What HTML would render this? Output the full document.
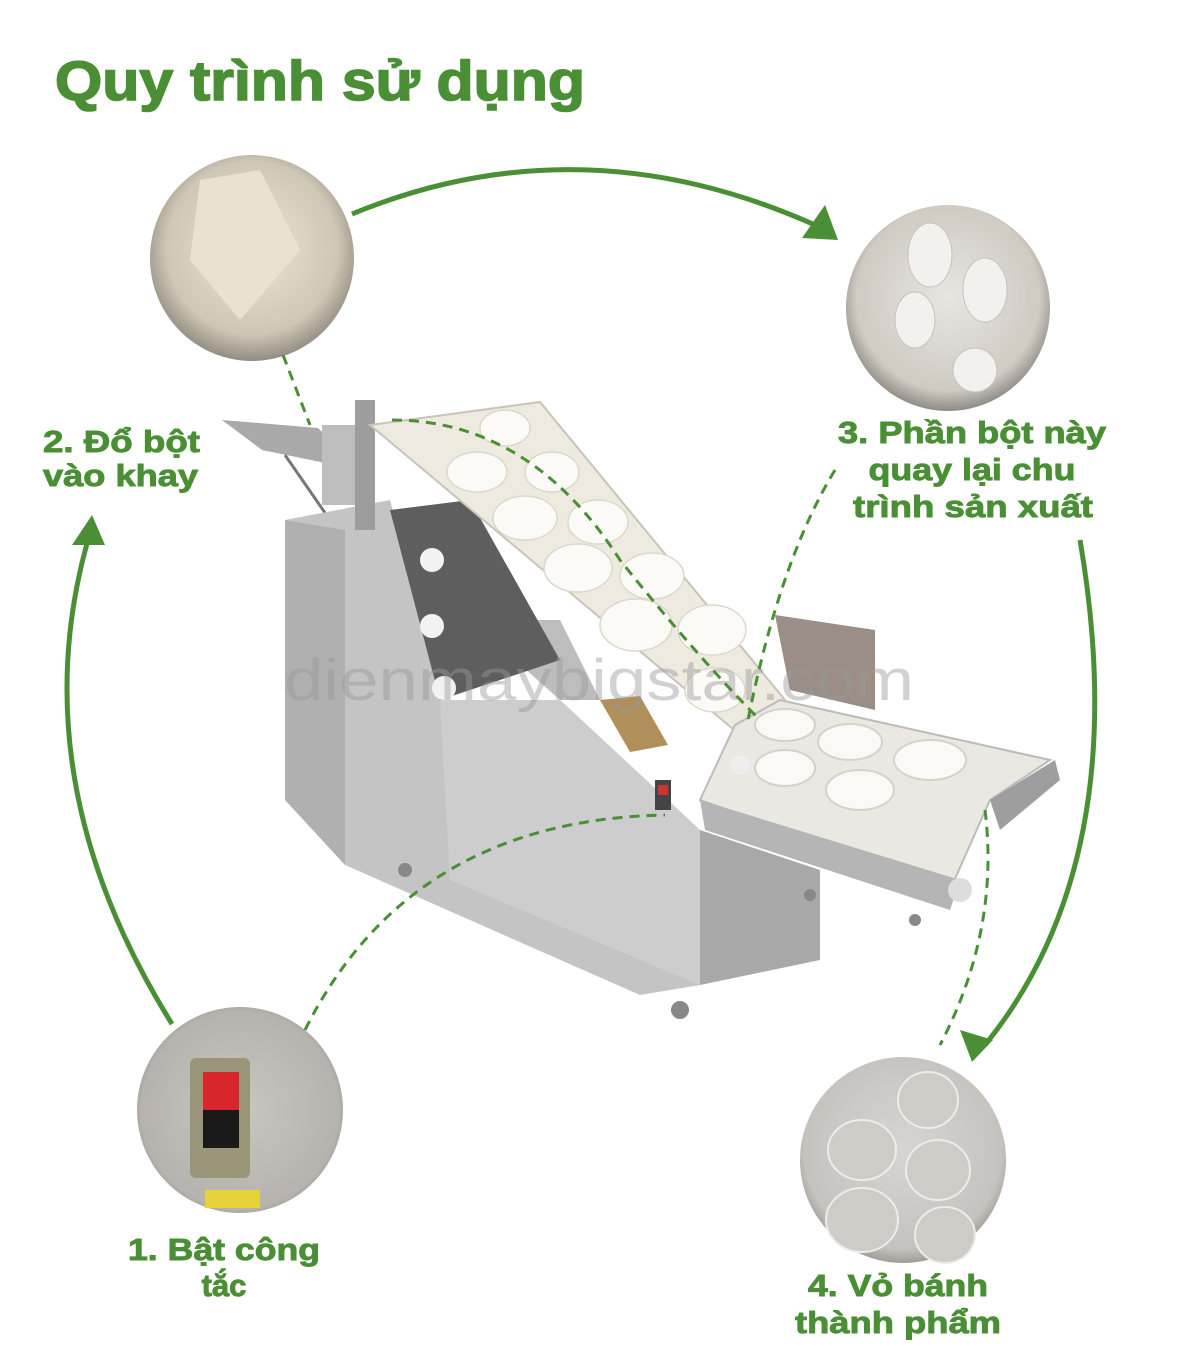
<!DOCTYPE html>
<html><head><meta charset="utf-8"><style>
html,body{margin:0;padding:0;background:#fff;}
svg{display:block;}
text{font-family:"Liberation Sans","DejaVu Sans",sans-serif;font-weight:bold;fill:#4a8f35;}
.t{stroke:#4a8f35;stroke-width:1.6;}
.l{stroke:#4a8f35;stroke-width:0.9;}
</style></head><body>
<svg width="1200" height="1358" viewBox="0 0 1200 1358" xmlns="http://www.w3.org/2000/svg">
<defs>
<radialGradient id="g1" cx="50%" cy="45%" r="60%"><stop offset="0" stop-color="#ece6d8"/><stop offset="0.7" stop-color="#cfc7b5"/><stop offset="1" stop-color="#7a766e"/></radialGradient>
<radialGradient id="g2" cx="50%" cy="45%" r="60%"><stop offset="0" stop-color="#e8e6e0"/><stop offset="0.75" stop-color="#cfcbc3"/><stop offset="1" stop-color="#6e6b66"/></radialGradient>
<radialGradient id="g3" cx="50%" cy="50%" r="60%"><stop offset="0" stop-color="#c9c6c1"/><stop offset="0.8" stop-color="#b6b3ae"/><stop offset="1" stop-color="#77736e"/></radialGradient>
<radialGradient id="g4" cx="50%" cy="45%" r="60%"><stop offset="0" stop-color="#d7d5d2"/><stop offset="0.8" stop-color="#c6c3bf"/><stop offset="1" stop-color="#85817c"/></radialGradient>
</defs>

<text class="t" x="55" y="100" font-size="56" textLength="530" lengthAdjust="spacingAndGlyphs">Quy trình sử dụng</text>

<g>
 <polygon points="222,420 318,428 360,470 262,450" fill="#a9a9a9"/>
 <line x1="285" y1="455" x2="330" y2="520" stroke="#777" stroke-width="3"/>
 <polygon points="285,520 390,500 445,700 560,700 700,830 700,985 640,995 345,865" fill="#c4c4c4"/>
 <polygon points="285,520 345,530 345,865 285,800" fill="#b0b0b0"/>
 <polygon points="440,700 560,700 700,830 700,985 450,880" fill="#cdcdcd"/>
 <polygon points="700,830 820,870 820,960 700,985" fill="#a8a8a8"/>
 <polygon points="470,620 560,620 600,700 560,700" fill="#bdbdbd"/>
 <polygon points="600,700 640,696 668,745 630,752" fill="#b08f5a"/>
 <polygon points="390,510 470,500 560,660 440,700" fill="#5e5e5e"/>
 <g fill="#f2f2f2"><circle cx="432" cy="560" r="12"/><circle cx="432" cy="626" r="12"/><circle cx="444" cy="688" r="12"/></g>
 <rect x="322" y="425" width="38" height="80" fill="#bdbdbd"/>
 <rect x="355" y="400" width="20" height="130" fill="#9d9d9d"/>
 <polygon points="370,425 540,402 785,700 740,735" fill="#eeeae0" stroke="#c9c4b8" stroke-width="2"/>
 <g fill="#fbfaf6" stroke="#ddd8cc" stroke-width="1.5">
  <ellipse cx="505" cy="428" rx="25" ry="18"/>
  <ellipse cx="477" cy="472" rx="30" ry="20"/><ellipse cx="552" cy="472" rx="27" ry="20"/>
  <ellipse cx="525" cy="518" rx="32" ry="22"/><ellipse cx="598" cy="522" rx="30" ry="22"/>
  <ellipse cx="578" cy="568" rx="34" ry="24"/><ellipse cx="652" cy="576" rx="32" ry="23"/>
  <ellipse cx="636" cy="625" rx="36" ry="26"/><ellipse cx="712" cy="630" rx="34" ry="25"/>
  <ellipse cx="715" cy="690" rx="30" ry="22"/>
 </g>
 <polygon points="775,615 875,630 875,710 790,690" fill="#9a8e86"/>
 <polygon points="735,725 780,700 1050,760 990,800 950,890 700,800" fill="#ebe8e2" stroke="#bbb" stroke-width="2"/>
 <polygon points="700,800 960,880 950,910 705,830" fill="#b5b5b5"/>
 <polygon points="990,800 1055,760 1060,780 1000,830" fill="#9e9e9e"/>
 <g fill="#faf9f6" stroke="#d6d2ca" stroke-width="2">
  <ellipse cx="785" cy="725" rx="30" ry="16"/><ellipse cx="850" cy="742" rx="32" ry="18"/>
  <ellipse cx="930" cy="760" rx="36" ry="20"/><ellipse cx="785" cy="768" rx="30" ry="18"/>
  <ellipse cx="860" cy="790" rx="34" ry="20"/>
 </g>
 <rect x="655" y="780" width="16" height="30" fill="#444"/>
 <rect x="658" y="785" width="10" height="10" fill="#c33"/>
 <circle cx="740" cy="765" r="10" fill="#eee"/>
 <circle cx="960" cy="890" r="12" fill="#ddd"/>
 <g fill="#888"><circle cx="405" cy="870" r="7"/><circle cx="680" cy="1010" r="9"/><circle cx="915" cy="920" r="6"/><circle cx="810" cy="895" r="6"/></g>
</g>

<text x="284" y="700" font-size="58" style="font-weight:normal;fill:#9a9a9a;fill-opacity:0.45" textLength="630" lengthAdjust="spacingAndGlyphs">dienmaybigstar.com</text>

<ellipse cx="252" cy="258" rx="102" ry="103" fill="url(#g1)"/>
<path d="M200 180 L260 170 L300 250 L240 320 L190 260 Z" fill="#e9e2d2"/>
<ellipse cx="948" cy="308" rx="102" ry="103" fill="url(#g2)"/>
<g fill="#f2f1ee" stroke="#c6c3bc"><ellipse cx="930" cy="255" rx="22" ry="32"/><ellipse cx="985" cy="290" rx="22" ry="32"/><ellipse cx="915" cy="320" rx="20" ry="28"/><ellipse cx="975" cy="370" rx="22" ry="22"/></g>
<ellipse cx="240" cy="1110" rx="103" ry="103" fill="url(#g3)"/>
<rect x="190" y="1058" width="60" height="120" rx="6" fill="#9a9478"/>
<rect x="203" y="1072" width="36" height="38" fill="#d8262c"/>
<rect x="203" y="1110" width="36" height="38" fill="#1a1a1a"/>
<rect x="205" y="1190" width="55" height="18" fill="#e6d23a"/>
<ellipse cx="903" cy="1160" rx="103" ry="103" fill="url(#g4)"/>
<g fill="#cfccc7" stroke="#eeece8" stroke-width="2"><ellipse cx="928" cy="1100" rx="30" ry="28"/><ellipse cx="862" cy="1150" rx="34" ry="30"/><ellipse cx="938" cy="1170" rx="32" ry="30"/><ellipse cx="862" cy="1220" rx="36" ry="32"/><ellipse cx="945" cy="1235" rx="30" ry="28"/></g>

<g stroke="#4a8f35" stroke-width="5" fill="none">
 <path d="M352 214 Q580 120 815 225"/>
 <path d="M1080 540 Q1135 860 985 1045"/>
 <path d="M172 1024 Q20 780 88 540"/>
</g>
<g fill="#4a8f35">
 <polygon points="838,240 802,238 825,205"/>
 <polygon points="972,1062 960,1030 993,1040"/>
 <polygon points="92,515 72,545 105,545"/>
</g>

<g stroke="#4a8f35" stroke-width="3" fill="none" stroke-dasharray="10,7">
 <path d="M283 355 L310 425"/>
 <path d="M835 470 Q780 560 748 720"/>
 <path d="M392 420 Q530 420 620 560 Q700 660 760 720"/>
 <path d="M985 810 Q1000 930 940 1045"/>
 <path d="M305 1030 Q410 820 665 815"/>
</g>

<g font-size="31">
 <text class="l" x="43" y="452" textLength="157" lengthAdjust="spacingAndGlyphs">2. Đổ bột</text>
 <text class="l" x="43" y="486" textLength="155" lengthAdjust="spacingAndGlyphs">vào khay</text>
 <text class="l" x="972" y="443" text-anchor="middle" textLength="268" lengthAdjust="spacingAndGlyphs">3. Phần bột này</text>
 <text class="l" x="972" y="480" text-anchor="middle" textLength="207" lengthAdjust="spacingAndGlyphs">quay lại chu</text>
 <text class="l" x="973" y="517" text-anchor="middle" textLength="240" lengthAdjust="spacingAndGlyphs">trình sản xuất</text>
 <text class="l" x="224" y="1260" text-anchor="middle" textLength="192" lengthAdjust="spacingAndGlyphs">1. Bật công</text>
 <text class="l" x="224" y="1296" text-anchor="middle">tắc</text>
 <text class="l" x="898" y="1296" text-anchor="middle" textLength="180" lengthAdjust="spacingAndGlyphs">4. Vỏ bánh</text>
 <text class="l" x="898" y="1333" text-anchor="middle" textLength="206" lengthAdjust="spacingAndGlyphs">thành phẩm</text>
</g>
</svg>
</body></html>
